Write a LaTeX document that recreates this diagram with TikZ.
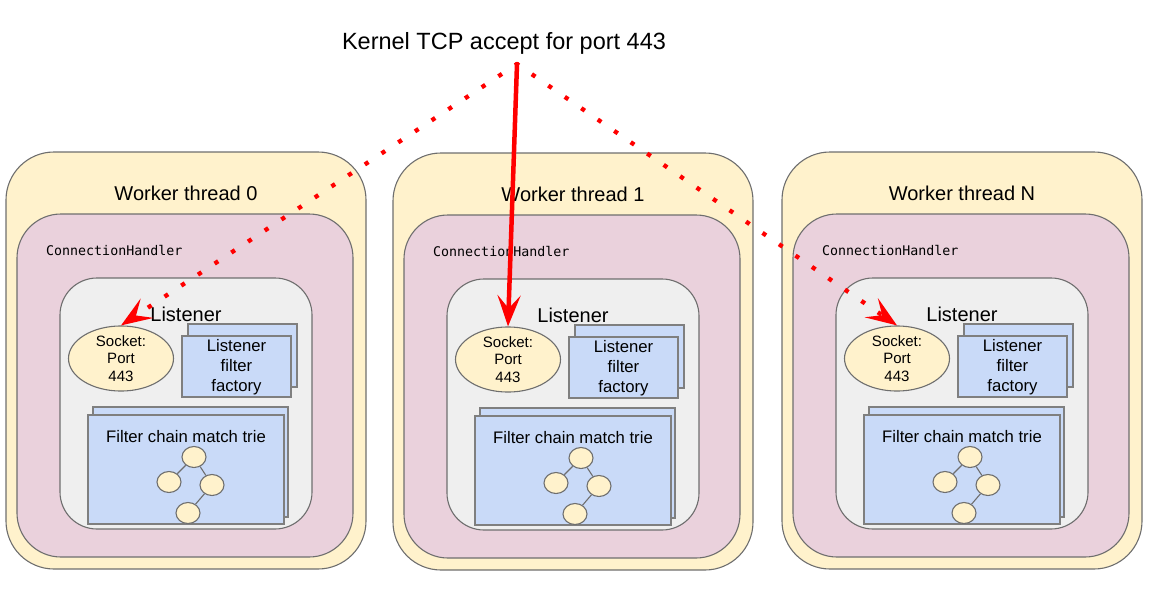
\documentclass[tikz,border=0pt]{standalone}
\usepackage{fontspec}
\setmainfont{Liberation Sans}
\newfontfamily\monofnt{DejaVu Sans Mono}
\usetikzlibrary{arrows.meta,shapes.geometric}
\definecolor{wyellow}{HTML}{FFF2CC}
\definecolor{cpink}{HTML}{EAD1DC}
\definecolor{lgray}{HTML}{EFEFEF}
\definecolor{fblue}{HTML}{C9DAF8}
\definecolor{bord}{HTML}{6E6E6E}
\definecolor{bordb}{HTML}{7F7F7F}
\definecolor{arrred}{HTML}{FF0000}
\begin{document}
\begin{tikzpicture}[x=1pt,y=-1pt,
  worker/.style={draw=bord, fill=wyellow, line width=1.1pt, rounded corners=48pt},
  handler/.style={draw=bord, fill=cpink, line width=1.1pt, rounded corners=44pt},
  listener/.style={draw=bord, fill=lgray, line width=1.1pt, rounded corners=37pt},
  bluebox/.style={draw=bordb, fill=fblue, line width=1.3pt},
  sockshape/.style={ellipse, draw=bord, fill=wyellow, line width=1.1pt, minimum width=105pt, minimum height=58pt, inner sep=0pt, align=center, font=\fontsize{15}{17.5}\selectfont},
  trienode/.style={ellipse, draw=bord, fill=wyellow, line width=1.1pt, minimum width=24pt, minimum height=21pt, inner sep=0pt},
  trieedge/.style={draw=bord, line width=1.1pt},
  bigtitle/.style={inner sep=0pt, font=\fontsize{20}{24}\selectfont},
  midtext/.style={inner sep=0pt, align=center, font=\fontsize{16.7}{20}\selectfont},
  monotext/.style={inner sep=0pt, anchor=west, font=\monofnt\fontsize{13.3}{16}\selectfont},
  tipshape/.style={-{Stealth[length=31pt,width=23pt,inset=13pt]}},
  solidarrow/.style={draw=arrred, line width=4.5pt, line cap=round, tipshape},
  dotarrow/.style={draw=arrred, line width=4.3pt, dash pattern=on 4.3pt off 15.7pt, dash phase=-18pt, tipshape}
]
\useasboundingbox (0,0) rectangle (1151,594);

\node[inner sep=0pt, font=\fontsize{23.5}{28}\selectfont] (kernel) at (504,43) {Kernel TCP accept for port 443};
\coordinate (src) at (517,64);

\foreach \dx/\dy/\id in {0/0/0, 387/1/1, 776/0/N} {
  \begin{scope}[shift={(\dx,\dy)}]
    \draw[worker] (6,152) rectangle (366,569);
    \draw[handler] (17,214) rectangle (353,557);
    \draw[listener] (60,278) rectangle (312,529);
    \node[bigtitle] (wt\id) at (186,193) {Worker thread \id};
    \node[monotext] (ch\id) at (46,250.7) {ConnectionHandler};
    \node[bigtitle] (lis\id) at (186,314) {Listener};
    \node[sockshape] (sock\id) at (121,358.5) {Socket:\\Port\\443};
    \draw[bluebox] (188,324) rectangle (297,387);
    \draw[bluebox] (182,336) rectangle (291,397);
    \node[midtext] (lff\id) at (236.5,367) {Listener\\filter\\factory};
    \draw[bluebox] (93,407) rectangle (288,517);
    \draw[bluebox] (88,415) rectangle (284,524);
    \node[midtext] (fcm\id) at (186,437) {Filter chain match trie};
    \node[trienode] (ta\id) at (194,457) {};
    \node[trienode] (tb\id) at (169,482) {};
    \node[trienode] (tc\id) at (212,485) {};
    \node[trienode] (td\id) at (188,513) {};
    \draw[trieedge] (ta\id) -- (tb\id);
    \draw[trieedge] (ta\id) -- (tc\id);
    \draw[trieedge] (tc\id) -- (td\id);
  \end{scope}
}

\draw[dotarrow] (src) -- (sock0.north);
\draw[dotarrow] (src) -- (sockN.north);
\draw[solidarrow] (src) -- (sock1.north);
\end{tikzpicture}
\end{document}
